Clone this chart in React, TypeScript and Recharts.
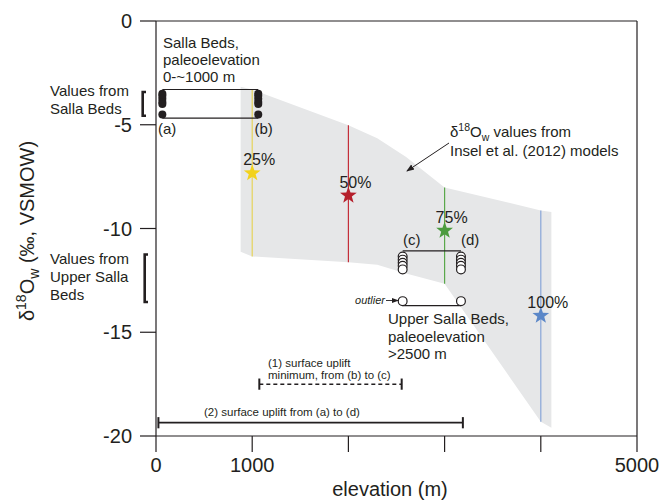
import React from "react";
import { Area, ComposedChart, ReferenceLine, Scatter, XAxis, YAxis } from "recharts";

const INK = "#231f20";
const FONT = "'Liberation Sans', Arial, Helvetica, sans-serif";

// Insel et al. (2012) model envelope
const bandElevation = [880, 1000, 2000, 2300, 2600, 3000, 4000, 4110];
const bandHigh = [-3.17, -3.3, -5.02, -5.65, -6.55, -8.02, -9.13, -9.21];
const bandLow = [-11.12, -11.35, -11.63, -11.75, -12.17, -12.66, -19.31, -19.6];

// uplift scenarios
const upliftLabels = ["25%", "50%", "75%", "100%"];
const upliftElevation = [1000, 2000, 3000, 4000];
const upliftValue = [-7.33, -8.41, -10.1, -14.2];
const upliftTop = [-3.3, -5.02, -8.02, -9.13];
const upliftBottom = [-11.35, -11.63, -12.66, -19.31];
const starColors = ["#f2d21b", "#b51f2b", "#4b9b3e", "#5b87c8"];
const lineColors = ["#e6d45a", "#c42f3a", "#5aa84b", "#87a6d8"];

// Salla Beds, (a) and (b)
const sallaElevation = [66, 1063];
const sallaValues = [-3.5, -3.6, -3.75, -3.9, -4.0, -4.5];
const sallaBox = [-3.3, -4.68];

// Upper Salla Beds, (c) and (d)
const upperElevation = [2564, 3170];
const upperValues = [-11.35, -11.5, -11.65, -11.8, -11.97];
const upperOutlier = -13.5;
const upperBox = [-11.08, -13.72];

// surface uplift bars
const minUpliftRange = [1074, 2554];
const minUpliftValue = -17.5;
const totalUpliftRange = [25, 3190];
const totalUpliftValue = -19.36;
const capHalf = 0.27;

const xTicks = [0, 1000, 2000, 3000, 4000, 5000];
const xTickLabels = ["0", "1000", "", "", "", "5000"];
const yTicks = [0, -5, -10, -15, -20];

const bandData = bandElevation.map((x, i) => ({ x, range: [bandLow[i], bandHigh[i]] }));
const starData = upliftElevation.map((x, i) => ({
  x,
  y: upliftValue[i],
  label: upliftLabels[i],
  color: starColors[i],
}));
const sallaData = sallaElevation.flatMap((x) => sallaValues.map((y) => ({ x, y })));
const upperData = upperElevation.flatMap((x) =>
  [...upperValues, upperOutlier].map((y) => ({ x, y }))
);

function Star(props: any) {
  const { cx, cy, payload } = props;
  const pts: string[] = [];
  for (let k = 0; k < 10; k++) {
    const r = k % 2 === 0 ? 8.8 : 3.6;
    const a = -Math.PI / 2 + (k * Math.PI) / 5;
    pts.push(`${cx + r * Math.cos(a)},${cy + r * Math.sin(a)}`);
  }
  return (
    <g>
      <polygon points={pts.join(" ")} fill={payload.color} />
      <text
        x={cx + 7}
        y={cy - 8}
        textAnchor="middle"
        fontSize={16}
        fill={INK}
        fontFamily={FONT}
      >
        {payload.label}
      </text>
    </g>
  );
}

const FilledDot = (props: any) => <circle cx={props.cx} cy={props.cy} r={4} fill={INK} />;
const OpenDot = (props: any) => (
  <circle cx={props.cx} cy={props.cy} r={4.4} fill="#fff" stroke={INK} strokeWidth={1.2} />
);

function Notes() {
  const t = { fill: INK, fontFamily: FONT, fontSize: 15 };
  const s = { fill: INK, fontFamily: FONT, fontSize: 11.5 };
  return (
    <svg
      width={662}
      height={502}
      style={{ position: "absolute", left: 0, top: 0, pointerEvents: "none" }}
    >
      <defs>
        <marker id="ah" markerWidth="8" markerHeight="8" refX="7" refY="4" orient="auto">
          <path d="M0,1 L8,4 L0,7 Z" fill={INK} />
        </marker>
      </defs>

      <text {...t} x={163} y={47.5}>Salla Beds,</text>
      <text {...t} x={163} y={64.5}>paleoelevation</text>
      <text {...t} x={163} y={81.5}>0-~1000 m</text>

      <text {...t} x={50} y={96}>Values from</text>
      <text {...t} x={50} y={113.5}>Salla Beds</text>
      <path d="M146,92 L142.7,92 L142.7,115.7 L146,115.7" fill="none" stroke={INK} strokeWidth={2.6} />

      <text {...t} x={50} y={264}>Values from</text>
      <text {...t} x={50} y={282}>Upper Salla</text>
      <text {...t} x={50} y={300}>Beds</text>
      <path d="M148,254.5 L144.7,254.5 L144.7,302 L148,302" fill="none" stroke={INK} strokeWidth={2.6} />

      <text {...t} x={158} y={133.5}>(a)</text>
      <text {...t} x={254.5} y={133.5}>(b)</text>
      <text {...t} x={403} y={245}>(c)</text>
      <text {...t} x={461} y={245}>(d)</text>

      <text {...t} x={450} y={137}>
        δ<tspan fontSize={10.5} dy={-6}>18</tspan>
        <tspan dy={6}>O</tspan>
        <tspan fontSize={10.5} dy={4}>w</tspan>
        <tspan dy={-4}> values from</tspan>
      </text>
      <text {...t} x={450} y={156}>Insel et al. (2012) models</text>
      <line x1={449} y1={143} x2={407} y2={171} stroke={INK} strokeWidth={1} markerEnd="url(#ah)" />

      <text fill={INK} fontFamily={FONT} fontSize={11} fontStyle="italic" x={385} y={304} textAnchor="end">
        outlier
      </text>
      <line x1={386} y1={300.5} x2={398} y2={300.5} stroke={INK} strokeWidth={0.9} markerEnd="url(#ah)" />

      <text {...t} x={388} y={324}>Upper Salla Beds,</text>
      <text {...t} x={388} y={341.5}>paleoelevation</text>
      <text {...t} x={388} y={359}>&gt;2500 m</text>

      <text {...s} x={268} y={366.5}>(1) surface uplift</text>
      <text {...s} x={268} y={379.3}>minimum, from (b) to (c)</text>
      <text {...s} x={204} y={415.7}>(2) surface uplift from (a) to (d)</text>

      <text fill={INK} fontFamily={FONT} fontSize={20} x={390} y={496} textAnchor="middle">
        elevation (m)
      </text>
      <text
        fill={INK}
        fontFamily={FONT}
        fontSize={20}
        x={33.5}
        y={231}
        textAnchor="middle"
        transform="rotate(-90, 33.5, 231)"
      >
        δ<tspan fontSize={14} dy={-8}>18</tspan>
        <tspan dy={8}>O</tspan>
        <tspan fontSize={14} dy={5}>w</tspan>
        <tspan dy={-5}> (‰, VSMOW)</tspan>
      </text>
    </svg>
  );
}

export default function App() {
  const axisStyle = { stroke: INK, strokeWidth: 1.2 };
  return (
    <div style={{ position: "absolute", left: 0, top: 0, width: 662, height: 502, background: "#fff" }}>
      <ComposedChart width={662} height={502} margin={{ top: 21, right: 25, bottom: 0, left: 0 }}>
        <XAxis
          dataKey="x"
          type="number"
          domain={[0, 5000]}
          ticks={xTicks}
          allowDataOverflow
          tickSize={16}
          tickMargin={6}
          height={66}
          axisLine={axisStyle}
          tickLine={axisStyle}
          tick={{ fontSize: 20, fill: INK, fontFamily: FONT }}
          tickFormatter={(v: number) => xTickLabels[xTicks.indexOf(v)] ?? ""}
        />
        <YAxis
          dataKey="y"
          type="number"
          domain={[-20, 0]}
          ticks={yTicks}
          allowDataOverflow
          tickSize={16}
          tickMargin={8}
          width={156}
          axisLine={axisStyle}
          tickLine={axisStyle}
          tick={{ fontSize: 20, fill: INK, fontFamily: FONT }}
        />
        <Area
          data={bandData}
          dataKey="range"
          type="linear"
          stroke="none"
          fill="#e6e7e8"
          fillOpacity={1}
          isAnimationActive={false}
        />
        <ReferenceLine y={0} stroke={INK} strokeWidth={1.2} />
        <ReferenceLine x={5000} stroke={INK} strokeWidth={1.2} />
        {upliftElevation.map((x, i) => (
          <ReferenceLine
            key={`v${i}`}
            segment={[
              { x, y: upliftTop[i] },
              { x, y: upliftBottom[i] },
            ]}
            stroke={lineColors[i]}
            strokeWidth={1.2}
          />
        ))}
        {sallaBox.map((y, i) => (
          <ReferenceLine
            key={`sb${i}`}
            segment={[
              { x: sallaElevation[0], y },
              { x: sallaElevation[1], y },
            ]}
            stroke={INK}
            strokeWidth={1.2}
          />
        ))}
        {upperBox.map((y, i) => (
          <ReferenceLine
            key={`ub${i}`}
            segment={[
              { x: upperElevation[0], y },
              { x: upperElevation[1], y },
            ]}
            stroke={INK}
            strokeWidth={1.2}
          />
        ))}
        <ReferenceLine
          segment={[
            { x: minUpliftRange[0], y: minUpliftValue },
            { x: minUpliftRange[1], y: minUpliftValue },
          ]}
          stroke={INK}
          strokeWidth={1.5}
          strokeDasharray="4 3"
        />
        <ReferenceLine
          segment={[
            { x: totalUpliftRange[0], y: totalUpliftValue },
            { x: totalUpliftRange[1], y: totalUpliftValue },
          ]}
          stroke={INK}
          strokeWidth={1.8}
        />
        {[...minUpliftRange.map((x) => ({ x, y: minUpliftValue })), ...totalUpliftRange.map((x) => ({ x, y: totalUpliftValue }))].map(
          (p, i) => (
            <ReferenceLine
              key={`cap${i}`}
              segment={[
                { x: p.x, y: p.y - capHalf },
                { x: p.x, y: p.y + capHalf },
              ]}
              stroke={INK}
              strokeWidth={2}
            />
          )
        )}
        <Scatter data={sallaData} shape={FilledDot} isAnimationActive={false} />
        <Scatter data={upperData} shape={OpenDot} isAnimationActive={false} />
        <Scatter data={starData} shape={Star} isAnimationActive={false} />
      </ComposedChart>
      <Notes />
    </div>
  );
}
